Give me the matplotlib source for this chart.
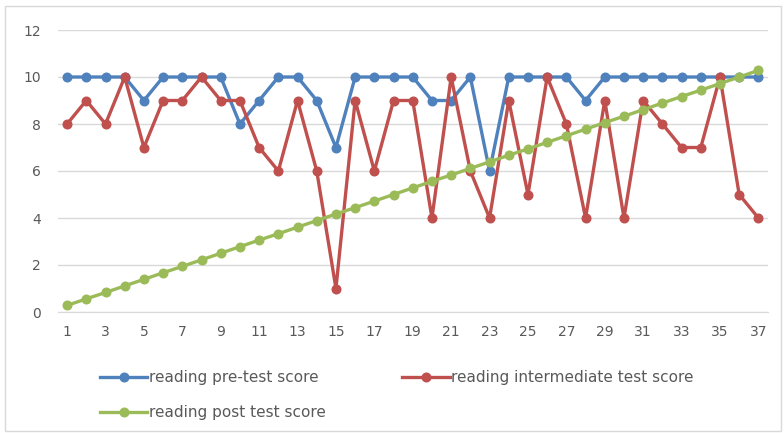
import matplotlib.pyplot as plt
from matplotlib.patches import Rectangle

students = list(range(1, 38))

pre_test = [10, 10, 10, 10, 9, 10, 10, 10, 10, 8,
            9, 10, 10, 9, 7, 10, 10, 10, 10, 9,
            9, 10, 6, 10, 10, 10, 10, 9, 10, 10,
            10, 10, 10, 10, 10, 10, 10]

intermediate_test = [8, 9, 8, 10, 7, 9, 9, 10, 9, 9,
                     7, 6, 9, 6, 1, 9, 6, 9, 9, 4,
                     10, 6, 4, 9, 5, 10, 8, 4, 9, 4,
                     9, 8, 7, 7, 10, 5, 4]

post_test = [0.28, 0.56, 0.83, 1.11, 1.39, 1.67, 1.94, 2.22, 2.5, 2.78,
             3.06, 3.33, 3.61, 3.89, 4.17, 4.44, 4.72, 5.0, 5.28, 5.56,
             5.83, 6.11, 6.39, 6.67, 6.94, 7.22, 7.5, 7.78, 8.06, 8.33,
             8.61, 8.89, 9.17, 9.44, 9.72, 10.0, 10.28]

y_ticks = [0, 2, 4, 6, 8, 10, 12]
x_ticks = list(range(1, 38, 2))

plt.rcParams["font.family"] = ["DejaVu Sans"]
text_color = "#595959"

fig = plt.figure(figsize=(7.84, 4.33), dpi=100)
ax = fig.add_axes([57.5 / 784, 1 - 312 / 433, (768 - 57.5) / 784, (312 - 30) / 433])

# outer chart border
fig.patches.append(Rectangle((5 / 784, 2 / 433), 776 / 784, 425 / 433,
                             transform=fig.transFigure, fill=False,
                             edgecolor="#d9d9d9", linewidth=1))

line_kw = dict(marker="o", markersize=6.2, linewidth=2.4)
l_pre, = ax.plot(students, pre_test, color="#4F81BD", label="reading pre-test score", **line_kw)
l_mid, = ax.plot(students, intermediate_test, color="#C0504D",
                 label="reading intermediate test score", **line_kw)
l_post, = ax.plot(students, post_test, color="#9BBB59", label="reading post test score", **line_kw)

ax.set_xlim(0.5, 37.5)
ax.set_ylim(0, 12)
ax.set_yticks(y_ticks)
ax.set_xticks(x_ticks)
ax.grid(axis="y", color="#d9d9d9", linewidth=1)
ax.set_axisbelow(True)
for side in ["top", "right", "left"]:
    ax.spines[side].set_visible(False)
ax.spines["bottom"].set_color("#d9d9d9")
ax.tick_params(axis="y", length=0, labelsize=10, colors=text_color, pad=12)
ax.tick_params(axis="x", length=0, labelsize=10, colors=text_color, pad=9)

# column-major order so rows read: pre | intermediate, then post
fig.legend(handles=[l_pre, l_post, l_mid], loc="upper left",
           bbox_to_anchor=(100 / 784, 1 - 370 / 433), ncol=2,
           frameon=False, fontsize=11, labelcolor=text_color,
           handlelength=3.1, handletextpad=0.1, columnspacing=5.0,
           labelspacing=1.3, borderaxespad=0, borderpad=0)

fig.savefig("out.png", dpi=100)
